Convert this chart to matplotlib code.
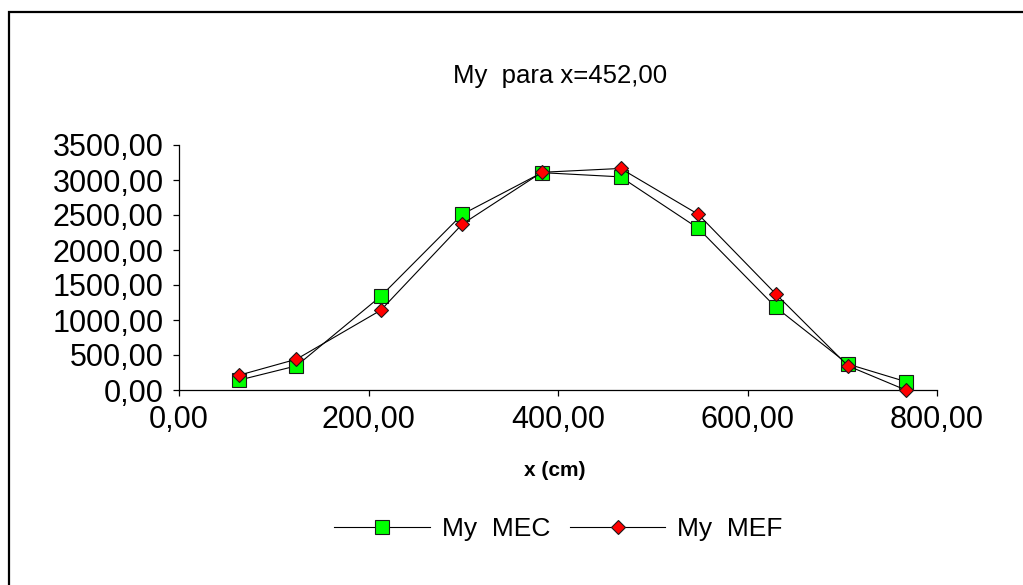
import matplotlib
matplotlib.use("Agg")
import matplotlib.pyplot as plt
from matplotlib.ticker import FuncFormatter, MultipleLocator
from matplotlib.patches import Rectangle

plt.rcParams['font.family'] = ['Liberation Sans', 'DejaVu Sans']

# Moment My along the section (x in cm)
x_cm = [63, 124, 213, 299, 383, 466, 548, 630, 706, 767]
my_mec = [140, 345, 1340, 2510, 3105, 3045, 2310, 1180, 370, 120]
my_mef = [210, 440, 1140, 2370, 3110, 3165, 2510, 1370, 345, 0]

title = "My  para x=452,00"
x_label = "x (cm)"
labels = ["My  MEC", "My  MEF"]

W, H = 1023, 585
fig = plt.figure(figsize=(W / 100, H / 100), dpi=100)

# outer chart frame
fig.patches.append(Rectangle((8.5 / W, -0.05), 1.1, 1 - 12 / H + 0.05,
                             transform=fig.transFigure, fill=False,
                             edgecolor='black', linewidth=1.6))

ax = fig.add_axes([179 / W, 1 - 390 / H, (937 - 179) / W, (390 - 145) / H])

ax.plot(x_cm, my_mec, color='black', lw=0.8, marker='s', markersize=9.4,
        markerfacecolor='#00FF00', markeredgecolor='#1a1a1a',
        markeredgewidth=0.8, label=labels[0], clip_on=False, zorder=3)
ax.plot(x_cm, my_mef, color='black', lw=0.8, marker='D', markersize=7.6,
        markerfacecolor='#FF0000', markeredgecolor='#1a1a1a',
        markeredgewidth=0.8, label=labels[1], clip_on=False, zorder=4)

ax.set_xlim(0, 800)
ax.set_ylim(0, 3500)
ax.xaxis.set_major_locator(MultipleLocator(200))
ax.yaxis.set_major_locator(MultipleLocator(500))
fmt = FuncFormatter(lambda v, p: f"{v:.2f}".replace('.', ','))
ax.xaxis.set_major_formatter(fmt)
ax.yaxis.set_major_formatter(fmt)

for s in ['top', 'right']:
    ax.spines[s].set_visible(False)
for s in ['left', 'bottom']:
    ax.spines[s].set_linewidth(0.9)
ax.tick_params(axis='both', direction='out', length=4, width=0.9,
               labelsize=22)
ax.tick_params(axis='y', pad=7)
ax.tick_params(axis='x', pad=7)

fig.text(560 / W, 1 - 83 / H, title, ha='center', va='baseline', fontsize=18.5)
fig.text(555 / W, 1 - 476 / H, x_label, ha='center', va='baseline',
         fontsize=15, fontweight='bold')

fig.legend(loc='center', bbox_to_anchor=(558.5 / W, 1 - 529 / H),
           ncol=2, frameon=False, fontsize=19, handlelength=3.63,
           handletextpad=0.45, columnspacing=0.73, borderpad=0,
           borderaxespad=0)

fig.savefig("out.png", dpi=100)
